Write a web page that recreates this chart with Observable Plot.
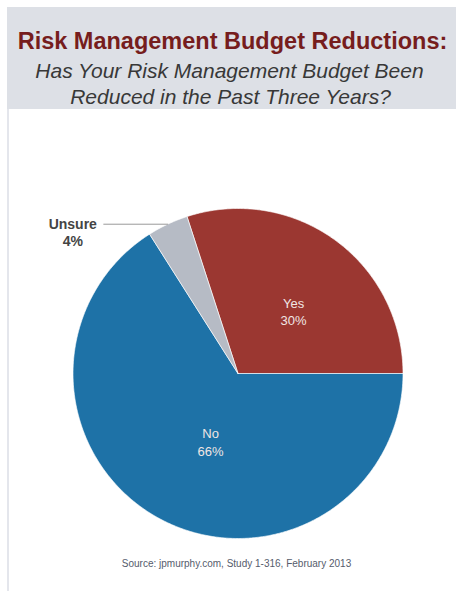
<!DOCTYPE html>
<html>
<head>
<meta charset="utf-8">
<script src="https://cdn.jsdelivr.net/npm/d3@7"></script>
<script src="https://cdn.jsdelivr.net/npm/@observablehq/plot@0.6"></script>
<style>
  html, body { margin: 0; padding: 0; background: #fff; }
  #page { position: relative; width: 461px; height: 591px; overflow: hidden; font-family: "Liberation Sans", Arial, sans-serif; }
  #band { position: absolute; left: 7px; top: 7px; width: 449px; height: 102px; background: #dde0e6; }
  #leftrule { position: absolute; left: 7px; top: 109px; width: 2px; height: 482px; background: #e4e6ec; }
  .line { position: absolute; left: 0; width: 461px; text-align: center; line-height: 1; white-space: nowrap; }
  #title { top: 30px; font-size: 23.5px; font-weight: bold; color: #761d1d; left: 2px; }
  .sub { font-size: 21px; font-style: italic; color: #383838; }
  #sub1 { top: 60px; left: -1px; }
  #sub2 { top: 86px; }
  #chart { position: absolute; left: 0; top: 130px; }
  #caption { top: 559px; font-size: 10px; color: #565c6c; left: 6px; }
</style>
</head>
<body>
<div id="page">
  <div id="band"></div>
  <div id="leftrule"></div>
  <div class="line" id="title">Risk Management Budget Reductions:</div>
  <div class="line sub" id="sub1">Has Your Risk Management Budget Been</div>
  <div class="line sub" id="sub2">Reduced in the Past Three Years?</div>
  <div id="chart"></div>
  <div class="line" id="caption">Source: jpmurphy.com, Study 1-316, February 2013</div>
</div>
<script>
// ---- data ----
const categories = ["Yes", "No", "Unsure"];
const values = [30, 66, 4];
const percentLabels = ["30%", "66%", "4%"];
const colors = ["#9b3731", "#1e72a7", "#b6bbc5"];

// ---- layout (styles) ----
const W = 461, H = 420;
const R = 165;
const cx = 237.5, cy = 243; // pie centre in svg pixels
const startDeg = -18;
const rad = d => d * Math.PI / 180;

const arcs = d3.pie().sort(null)
  .startAngle(rad(startDeg))
  .endAngle(rad(startDeg + 360))(values);

// polygon points for each slice (x right, y up, 1 unit = 1 px)
const pts = [];
arcs.forEach((a, i) => {
  const label = categories[i];
  pts.push({label, x: 0, y: 0});
  const n = Math.max(2, Math.ceil((a.endAngle - a.startAngle) / rad(0.5)));
  for (let k = 0; k <= n; k++) {
    const t = a.startAngle + (a.endAngle - a.startAngle) * k / n;
    pts.push({label, x: R * Math.sin(t), y: R * Math.cos(t)});
  }
  pts.push({label, x: 0, y: 0});
});

const mid = a => (a.startAngle + a.endAngle) / 2;
const inner = arcs.map((a, i) => ({
  text: categories[i] + "\n" + percentLabels[i],
  x: 0.47 * R * Math.sin(mid(a)),
  y: 0.47 * R * Math.cos(mid(a)),
  i
})).filter(d => values[d.i] >= 10);

const outer = arcs.map((a, i) => ({a, i})).filter(d => values[d.i] < 10).map(({a, i}) => {
  const ex = R * Math.sin(mid(a)), ey = R * Math.cos(mid(a));
  return {text: categories[i] + "\n" + percentLabels[i], ex, ey, lx: ex - 64, tx: ex - 95};
});
const leaders = outer.flatMap((d, k) => [{k, x: d.ex, y: d.ey}, {k, x: d.lx, y: d.ey}]);

const chart = Plot.plot({
  width: W, height: H, margin: 0,
  x: {domain: [-cx, W - cx], axis: null},
  y: {domain: [-(H - cy), cy], axis: null},
  color: {domain: categories, range: colors},
  style: {background: "transparent"},
  marks: [
    Plot.line(pts, {x: "x", y: "y", z: "label", fill: "label", stroke: "#ffffff", strokeWidth: 0.8, strokeOpacity: 0.8, curve: "linear"}),
    Plot.line(leaders, {x: "x", y: "y", z: "k", stroke: "#9a9a9a", strokeWidth: 1}),
    Plot.text(inner, {x: "x", y: "y", text: "text", fill: "#f1e6e4", fontSize: 13, lineHeight: 1.35, fontFamily: "Liberation Sans, Arial, sans-serif", dx: 10}),
    Plot.text(outer, {x: "tx", y: "ey", text: "text", fill: "#444444", fontSize: 14, fontWeight: "bold", lineHeight: 1.2, dy: 8, fontFamily: "Liberation Sans, Arial, sans-serif"})
  ]
});
document.getElementById("chart").appendChild(chart);
</script>
</body>
</html>
